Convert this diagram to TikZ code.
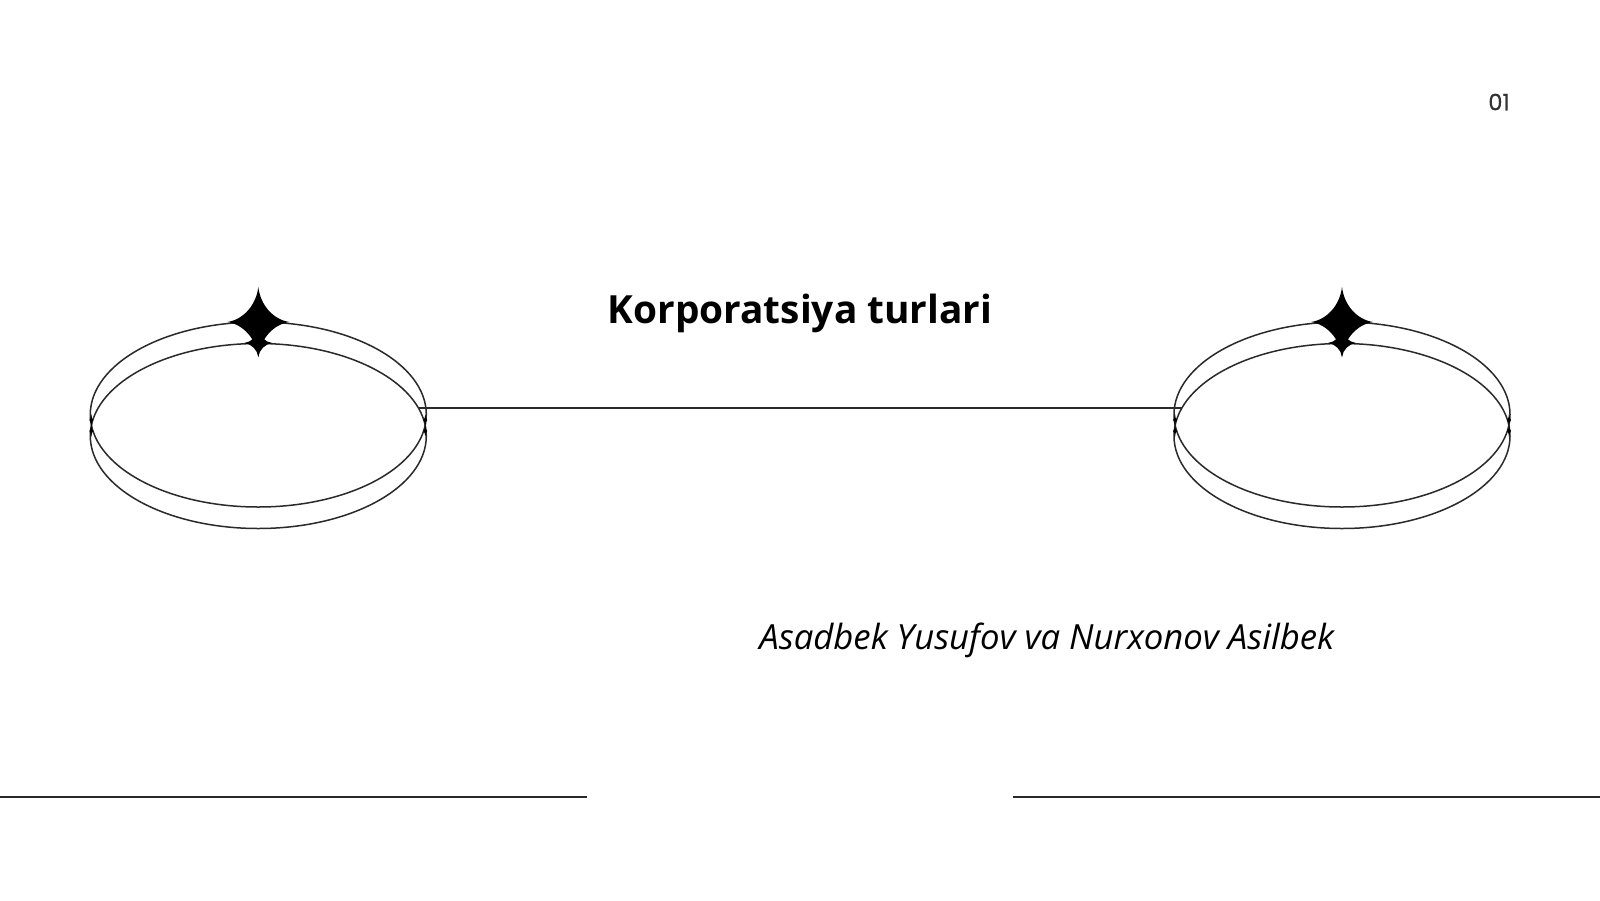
\documentclass[tikz,border=0pt]{standalone}
\usepackage{fontspec}
\setmainfont{Open Sans}
\newfontfamily\numfont[FakeBold=0.35]{Poppins}
\usetikzlibrary{shapes.geometric}
\tikzset{
  x=1pt,y=-1pt,
  ring/.style={ellipse,draw=inkline,line width=1.5pt,minimum width=336pt,minimum height=185pt,inner sep=0pt,outer sep=0pt},
  rule/.style={draw=inkline,line width=1.5pt},
  sparkle/.pic={\fill[black] (0,-1) .. controls (0.07,-0.48) and (0.48,-0.07) .. (1,0) .. controls (0.48,0.07) and (0.07,0.48) .. (0,1) .. controls (-0.07,0.48) and (-0.48,0.07) .. (-1,0) .. controls (-0.48,-0.07) and (-0.07,-0.48) .. (0,-1) -- cycle;}
}
\definecolor{inkline}{HTML}{2A2A2A}
\newcommand{\ovalpair}[2]{%
  \node[ring] (#2u) at (#1,414.5) {};
  \node[ring] (#2l) at (#1,436) {};
  \path (#1,322) pic[x=31pt,y=35pt] {sparkle};
  \path (#1,343) pic[x=14pt,y=14pt] {sparkle};
  \path (#1-167,420) pic[x=2pt,y=6pt] {sparkle};
  \path (#1-167,431) pic[x=2pt,y=6pt] {sparkle};
  \path (#1+167,420) pic[x=2pt,y=6pt] {sparkle};
  \path (#1+167,431) pic[x=2pt,y=6pt] {sparkle};
}
\begin{document}
\begin{tikzpicture}
\useasboundingbox (0,0) rectangle (1600,900);
\fill[white] (0,0) rectangle (1600,900);
\ovalpair{258.3}{a}
\ovalpair{1342}{b}
\coordinate (m1) at (418,408);
\coordinate (m2) at (1182,408);
\draw[rule] (m1) -- (m2);
\coordinate (p1) at (0,797);
\coordinate (p2) at (587,797);
\coordinate (p3) at (1013,797);
\coordinate (p4) at (1600,797);
\draw[rule] (p1) -- (p2);
\draw[rule] (p3) -- (p4);
\node[font=\bfseries\fontsize{38.8}{46}\selectfont,text=black,inner sep=0pt] (title) at (800,313.5) {Korporatsiya turlari};
\node[font=\itshape\fontsize{34.7}{42}\selectfont,text=black,inner sep=0pt] (sub) at (1046.8,640.5) {Asadbek Yusufov va Nurxonov Asilbek};
\node[font=\numfont\fontsize{22.5}{27}\selectfont,text=black!80,inner sep=0pt] (num) at (1499,102) {01};
\end{tikzpicture}
\end{document}
